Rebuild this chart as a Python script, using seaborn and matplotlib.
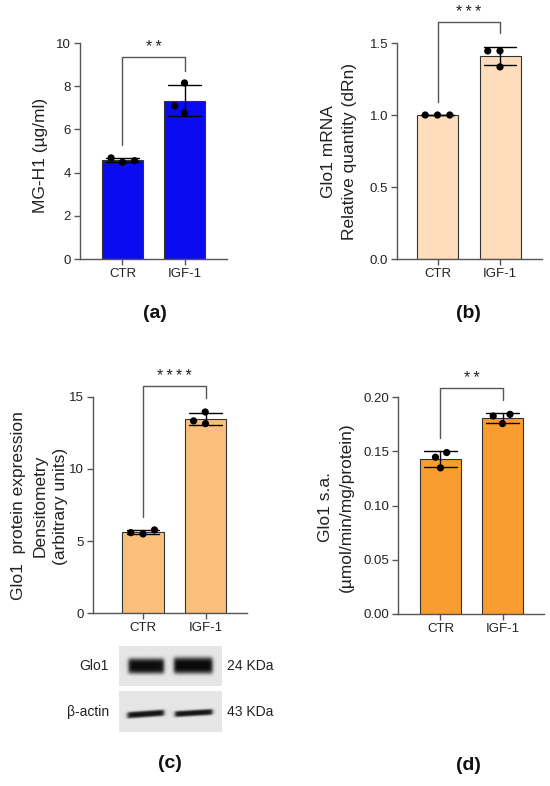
import numpy as np
import pandas as pd
import matplotlib
matplotlib.use("Agg")
import matplotlib.pyplot as plt
import seaborn as sns

# ---------------- data ----------------
groups = ["CTR", "IGF-1"]
mgh1_ctr = [4.48, 4.68, 4.55]
mgh1_igf = [8.15, 7.09, 6.77]
mrna_ctr = [1.00, 1.00, 1.00]
mrna_igf = [1.445, 1.445, 1.334]
prot_ctr = [5.49, 5.77, 5.58]
prot_igf = [13.96, 13.15, 13.34]
act_ctr = [0.1488, 0.1445, 0.1347]
act_igf = [0.184, 0.1825, 0.1755]
stars = ["*\u2009*", "*\u2009*\u2009*", "*\u2009*\u2009*\u2009*", "*\u2009*"]
ylabels = ["MG-H1 (µg/ml)",
           "Glo1 mRNA\nRelative quantity (dRn)",
           "Glo1  protein expression\nDensitometry\n(arbitrary units)",
           "Glo1 s.a.\n(µmol/min/mg/protein)"]
yticks = [[0, 2, 4, 6, 8, 10],
          [0.0, 0.5, 1.0, 1.5],
          [0, 5, 10, 15],
          [0.00, 0.05, 0.10, 0.15, 0.20]]
ytick_labels = [["0", "2", "4", "6", "8", "10"],
                ["0.0", "0.5", "1.0", "1.5"],
                ["0", "5", "10", "15"],
                ["0.00", "0.05", "0.10", "0.15", "0.20"]]
panel_tags = ["(a)", "(b)", "(c)", "(d)"]
blot_names = ["Glo1", "β-actin"]
blot_sizes = ["24 KDa", "43 KDa"]

# ---------------- layout ----------------
W, H = 550, 786
sns.set_theme(style="ticks")
plt.rcParams["font.family"] = ["Liberation Sans", "DejaVu Sans"]

fig = plt.figure(figsize=(W / 100, H / 100), dpi=100)
fig.patch.set_facecolor("white")


def rect(l, r, t, b):
    return [l / W, 1 - b / H, (r - l) / W, (b - t) / H]


def fx(px):
    return px / W


def fy(py):
    return 1 - py / H


panels = [
    dict(data=(mgh1_ctr, mgh1_igf), color="#0B0BF2", rect=(80, 227, 43, 259),
         xlim=(-0.685, 1.685), width=0.66, ylim=10, bracket=(5.28, 9.35, 8.7),
         ylab=(40, 155), tag=(155, 313)),
    dict(data=(mrna_ctr, mrna_igf), color="#FDDDBB", rect=(397, 542, 43, 259),
         xlim=(-0.648, 1.672), width=0.656, ylim=1.5, bracket=(1.09, 1.646, 1.57),
         ylab=(339, 152), tag=(468, 313)),
    dict(data=(prot_ctr, prot_igf), color="#FBBF7C", rect=(93, 247, 397, 613),
         xlim=(-0.8, 1.664), width=0.67, ylim=15, bracket=(6.67, 15.76, 14.93),
         ylab=(40, 506), tag=(170, 763)),
    dict(data=(act_ctr, act_igf), color="#F99D30", rect=(398, 544, 397, 614),
         xlim=(-0.685, 1.669), width=0.66, ylim=0.2, bracket=(0.162, 0.208, 0.197),
         ylab=(336, 507), tag=(468, 765)),
]

spine_col = "#555555"
for i, p in enumerate(panels):
    ax = fig.add_axes(rect(*p["rect"]))
    ctr, igf = p["data"]
    df = pd.DataFrame({"group": [groups[0]] * len(ctr) + [groups[1]] * len(igf),
                       "value": list(ctr) + list(igf)})
    sns.barplot(data=df, x="group", y="value", order=groups, color=p["color"],
                saturation=1, width=p["width"], errorbar="sd", capsize=0.52,
                err_kws={"color": "black", "linewidth": 1.0},
                edgecolor="#333333", linewidth=0.8, ax=ax)
    sns.swarmplot(data=df, x="group", y="value", order=groups, color="black",
                  size=5.2, linewidth=3.2, edgecolor="none", ax=ax, zorder=5)
    ax.set_xlim(*p["xlim"])
    ax.set_ylim(0, p["ylim"])
    ax.set_yticks(yticks[i])
    ax.set_yticklabels(ytick_labels[i])
    ax.set_xlabel("")
    ax.set_ylabel("")
    ax.set_facecolor("none")
    sns.despine(ax=ax)
    for s in ["left", "bottom"]:
        ax.spines[s].set_color(spine_col)
        ax.spines[s].set_linewidth(1.0)
    ax.tick_params(axis="both", length=4.5, width=1.0, color=spine_col,
                   labelsize=9.5, labelcolor="#222222", pad=2)
    lb, top, rb = p["bracket"]
    ax.plot([0, 0, 1, 1], [lb, top, top, rb], color=spine_col, lw=1.0,
            clip_on=False, zorder=6)
    ax.annotate(stars[i], xy=(0.5, top), xytext=(0, 3.5), textcoords="offset points",
                ha="center", va="baseline", fontsize=11.5, color="#222222",
                annotation_clip=False)
    fig.text(fx(p["ylab"][0]), fy(p["ylab"][1]), ylabels[i], rotation=90,
             ha="center", va="center", multialignment="center",
             fontsize=12.5, linespacing=1.5, color="#222222")
    fig.text(fx(p["tag"][0]), fy(p["tag"][1]), panel_tags[i], ha="center",
             va="center", fontsize=14, fontweight="bold", color="#111111")


# ---------------- western blot illustration ----------------
def blot_image(h, w, bands, bg=0.9):
    yy, xx = np.mgrid[0:h, 0:w].astype(float)
    img = np.full((h, w), bg)
    for x0, x1, yc, half, slope, dark in bands:
        yline = yc + slope * (xx - (x0 + x1) / 2)
        fxx = 0.5 * (np.tanh((xx - x0) / 2.0) - np.tanh((xx - x1) / 2.0))
        fyy = np.exp(-((yy - yline) / half) ** 4)
        img -= dark * fxx * fyy
    return np.clip(img, 0, 1)


blots = [
    dict(rect=(119, 221, 646, 686), h=40,
         bands=[(9, 44, 20, 7.5, 0.0, 0.85), (54, 92, 19.5, 8.0, 0.0, 0.86)],
         ytxt=666),
    dict(rect=(119, 221, 691, 732), h=41,
         bands=[(8, 44, 22.5, 3.2, -0.07, 0.82), (55, 92, 21.5, 3.0, -0.06, 0.82)],
         ytxt=712),
]
for j, b in enumerate(blots):
    bax = fig.add_axes(rect(*b["rect"]))
    img = blot_image(b["h"], 102, b["bands"])
    bax.imshow(img, cmap="gray", vmin=0, vmax=1, aspect="auto",
               interpolation="bicubic")
    bax.set_axis_off()
    fig.text(fx(109), fy(b["ytxt"]), blot_names[j], ha="right", va="center",
             fontsize=10, color="#222222")
    fig.text(fx(227), fy(b["ytxt"]), blot_sizes[j], ha="left", va="center",
             fontsize=10, color="#222222")

fig.savefig("out.png", dpi=100, facecolor="white")
